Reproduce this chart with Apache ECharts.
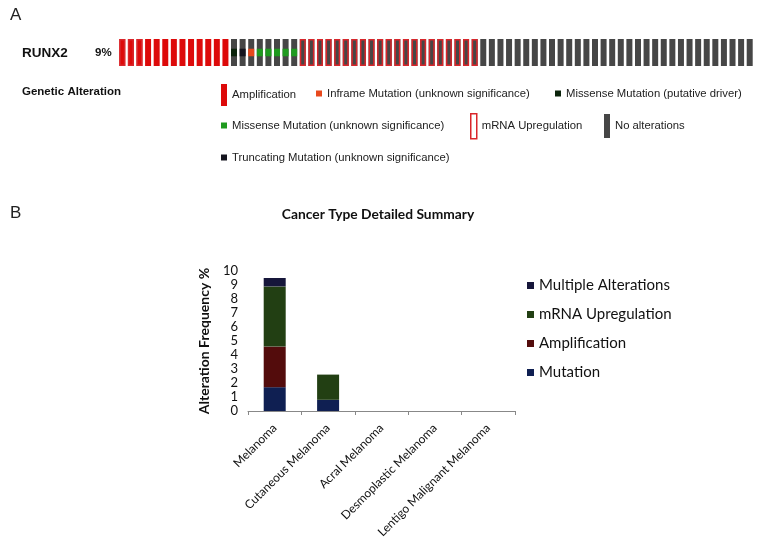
<!DOCTYPE html>
<html>
<head>
<meta charset="utf-8">
<script src="https://cdn.jsdelivr.net/npm/echarts@6/dist/echarts.min.js"></script>
<style>
html,body{margin:0;padding:0;background:#fff;}
#chart{width:758px;height:547px;}
</style>
</head>
<body>
<div id="chart"></div>
<script>
// ---------- Panel A data (oncoprint, one code per sample) ----------
// AU = amplification + mRNA upregulation, A = amplification, MD = missense (putative driver),
// T = truncating, I = inframe, MU = missense (unknown), U = mRNA upregulation, N = no alteration
const sampleCodes = [
  'AU','AU','AU','A','A','A','A','A','A','A','A','A','A',
  'MD','T','I','MU','MU','MU','MU','MU',
  'U','U','U','U','U','U','U','U','U','U','U','U','U','U','U','U','U','U','U','U','U',
  'N','N','N','N','N','N','N','N','N','N','N','N','N','N','N','N',
  'N','N','N','N','N','N','N','N','N','N','N','N','N','N','N','N'
];
const geneName = 'RUNX2';
const alteredPct = '9%';

// ---------- Panel B data ----------
const cancerTypes = ['Melanoma', 'Cutaneous Melanoma', 'Acral Melanoma', 'Desmoplastic Melanoma', 'Lentigo Malignant Melanoma'];
const mutationVals = [1.7, 0.8, 0, 0, 0];
const amplificationVals = [2.9, 0, 0, 0, 0];
const mrnaVals = [4.3, 1.8, 0, 0, 0];
const multipleVals = [0.6, 0, 0, 0, 0];
const yTicks = [0, 1, 2, 3, 4, 5, 6, 7, 8, 9, 10];

const chart = echarts.init(document.getElementById('chart'));
const FA = 'Liberation Sans, Arial, sans-serif';
const FB = 'Lato, Open Sans, sans-serif';
const idx = sampleCodes.map((_, i) => 'S' + (i + 1));

const pick = (codes, v) => sampleCodes.map(c => codes.includes(c) ? v : '-');

const barBase = { type: 'bar', xAxisIndex: 0, yAxisIndex: 0, barWidth: 6, barGap: '-100%', silent: true };
const mutH = 0.28, mutOff = 0.36;
const legA = { fontFamily: FA, fontSize: 11.3, color: '#222' };

const option = {
  animation: false,
  backgroundColor: '#fff',
  title: [
    { text: 'A', left: 10, top: 7, padding: 0, textStyle: { fontFamily: FA, fontSize: 17, fontWeight: 'normal', color: '#222' } },
    { text: geneName, left: 22, top: 46, padding: 0, textStyle: { fontFamily: FA, fontSize: 13.5, fontWeight: 'bold', color: '#111' } },
    { text: alteredPct, left: 95, top: 47, padding: 0, textStyle: { fontFamily: FA, fontSize: 11.5, fontWeight: 'bold', color: '#111' } },
    { text: 'Genetic Alteration', left: 22, top: 86, padding: 0, textStyle: { fontFamily: FA, fontSize: 11.5, fontWeight: 'bold', color: '#111' } },
    { text: 'B', left: 10, top: 205, padding: 0, textStyle: { fontFamily: FA, fontSize: 17, fontWeight: 'normal', color: '#222' } },
    { text: 'Cancer Type Detailed Summary', left: 378, textAlign: 'center', top: 208, padding: 0, textStyle: { fontFamily: FB, fontSize: 13.8, fontWeight: 'bold', color: '#111' } }
  ],
  legend: [
    { data: ['Amplification'], left: 221, top: 84, padding: 0, itemWidth: 6, itemHeight: 22, icon: 'rect', selectedMode: false, textStyle: legA },
    { data: ['Inframe Mutation (unknown significance)'], left: 316, top: 88, padding: 0, itemWidth: 6, itemHeight: 6, icon: 'rect', selectedMode: false, textStyle: legA },
    { data: ['Missense Mutation (putative driver)'], left: 555, top: 88, padding: 0, itemWidth: 6, itemHeight: 6, icon: 'rect', selectedMode: false, textStyle: legA },
    { data: ['Missense Mutation (unknown significance)'], left: 221, top: 120, padding: 0, itemWidth: 6, itemHeight: 6, icon: 'rect', selectedMode: false, textStyle: legA },
    { data: [{ name: 'mRNA Upregulation', itemStyle: { color: '#fff', borderColor: '#d9262b', borderWidth: 1.5 } }], left: 470, top: 113, padding: 0, itemWidth: 6, itemHeight: 25, icon: 'rect', selectedMode: false, textStyle: legA },
    { data: ['No alterations'], left: 604, top: 114, padding: 0, itemWidth: 6, itemHeight: 24, icon: 'rect', selectedMode: false, textStyle: legA },
    { data: ['Truncating Mutation (unknown significance)'], left: 221, top: 152, padding: 0, itemWidth: 6, itemHeight: 6, icon: 'rect', selectedMode: false, textStyle: legA },
    { data: ['B|Multiple Alterations', 'B|mRNA Upregulation', 'B|Amplification', 'B|Mutation'], orient: 'vertical', left: 527, top: 278, padding: 0, itemGap: 14, itemWidth: 7, itemHeight: 7, icon: 'rect', selectedMode: false,
      formatter: n => n.replace('B|', ''), textStyle: { fontFamily: FB, fontSize: 15, color: '#111' } }
  ],
  grid: [
    { left: 118, top: 39, width: 636, height: 27 },
    { left: 248, top: 271, width: 267, height: 140 }
  ],
  xAxis: [
    { gridIndex: 0, type: 'category', data: idx, show: false },
    { gridIndex: 1, type: 'category', data: cancerTypes,
      axisLine: { lineStyle: { color: '#888', width: 1 } },
      axisTick: { show: true, interval: 0, length: 4, lineStyle: { color: '#888' } },
      axisLabel: { interval: 0, rotate: 45, margin: 15, fontFamily: FB, fontSize: 12, color: '#111' } }
  ],
  yAxis: [
    { gridIndex: 0, type: 'value', min: 0, max: 1, show: false },
    { gridIndex: 1, type: 'value', min: 0, max: 10, interval: 1,
      name: 'Alteration Frequency %', nameLocation: 'middle', nameRotate: 90, nameGap: 37,
      nameTextStyle: { fontFamily: FB, fontSize: 14, fontWeight: 'bold', color: '#111' },
      axisLine: { show: false },
      axisTick: { show: false },
      splitLine: { show: false },
      axisLabel: { margin: 10, fontFamily: FB, fontSize: 13, color: '#111', formatter: v => yTicks.includes(v) ? String(v) : '' } }
  ],
  series: [
    Object.assign({}, barBase, { name: 'No alterations', itemStyle: { color: '#464646' }, data: sampleCodes.map(c => (c === 'A' || c === 'AU') ? '-' : 1) }),
    Object.assign({}, barBase, { name: 'Amplification', itemStyle: { color: '#dd0a0a' }, data: pick(['A', 'AU'], 1) }),
    Object.assign({}, barBase, { name: '_offset', stack: 'mut', itemStyle: { color: 'rgba(0,0,0,0)' }, data: pick(['MD', 'T', 'I', 'MU'], mutOff) }),
    Object.assign({}, barBase, { name: 'Missense Mutation (putative driver)', stack: 'mut', itemStyle: { color: '#0b230b' }, data: pick(['MD'], mutH) }),
    Object.assign({}, barBase, { name: 'Truncating Mutation (unknown significance)', stack: 'mut', itemStyle: { color: '#15151f' }, data: pick(['T'], mutH) }),
    Object.assign({}, barBase, { name: 'Inframe Mutation (unknown significance)', stack: 'mut', itemStyle: { color: '#e8491d' }, data: pick(['I'], mutH) }),
    Object.assign({}, barBase, { name: 'Missense Mutation (unknown significance)', stack: 'mut', itemStyle: { color: '#1f9a1f' }, data: pick(['MU'], mutH) }),
    Object.assign({}, barBase, { name: 'mRNA Upregulation', itemStyle: { color: 'rgba(0,0,0,0)', borderColor: '#d9262b', borderWidth: 1.5 }, data: pick(['U', 'AU'], 1) }),

    { name: 'B|Mutation', type: 'bar', xAxisIndex: 1, yAxisIndex: 1, stack: 'b', barWidth: 22, itemStyle: { color: '#0f1f52' }, data: mutationVals },
    { name: 'B|Amplification', type: 'bar', xAxisIndex: 1, yAxisIndex: 1, stack: 'b', barWidth: 22, itemStyle: { color: '#530c0c' }, data: amplificationVals },
    { name: 'B|mRNA Upregulation', type: 'bar', xAxisIndex: 1, yAxisIndex: 1, stack: 'b', barWidth: 22, itemStyle: { color: '#223f13' }, data: mrnaVals },
    { name: 'B|Multiple Alterations', type: 'bar', xAxisIndex: 1, yAxisIndex: 1, stack: 'b', barWidth: 22, itemStyle: { color: '#16163a' }, data: multipleVals }
  ]
};
chart.setOption(option);
</script>
</body>
</html>
